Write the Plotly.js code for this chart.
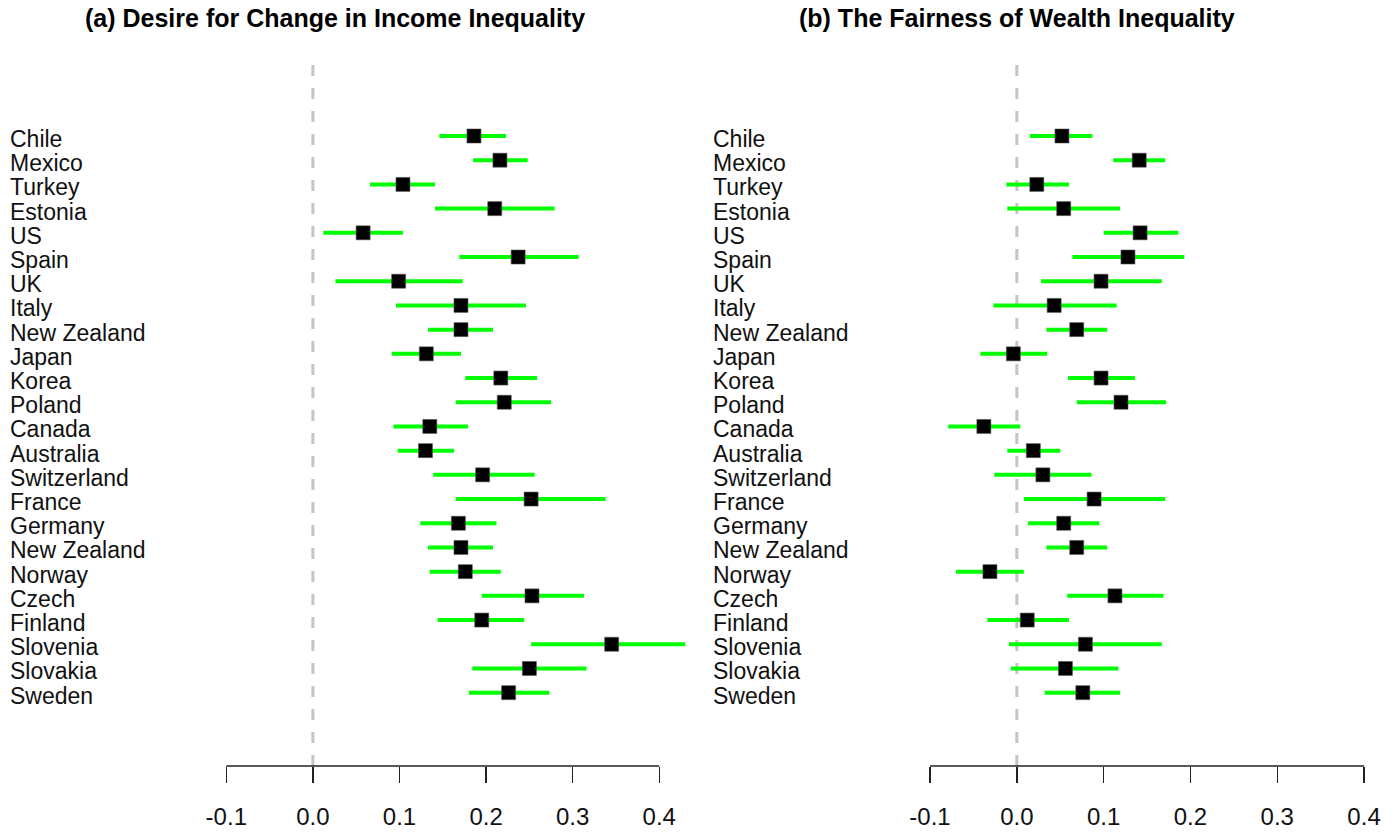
<!DOCTYPE html>
<html>
<head>
<meta charset="utf-8">
<script src="https://cdn.plot.ly/plotly-3.0.1.min.js"></script>
<style>html,body{margin:0;padding:0;background:#fff;}#chart{width:1396px;height:832px;}</style>
</head>
<body>
<div id="chart"></div>
<script>
// Countries, top to bottom
var countries = ["Chile","Mexico","Turkey","Estonia","US","Spain","UK","Italy","New Zealand","Japan","Korea","Poland","Canada","Australia","Switzerland","France","Germany","New Zealand","Norway","Czech","Finland","Slovenia","Slovakia","Sweden"];

// (a) Desire for Change in Income Inequality
var incomeEst = [0.186,0.216,0.104,0.210,0.058,0.237,0.099,0.171,0.171,0.131,0.217,0.221,0.135,0.130,0.196,0.252,0.168,0.171,0.176,0.253,0.195,0.345,0.250,0.226];
var incomeLo  = [0.146,0.185,0.066,0.141,0.012,0.169,0.026,0.096,0.133,0.091,0.176,0.165,0.093,0.098,0.139,0.165,0.124,0.133,0.135,0.195,0.144,0.252,0.184,0.180];
var incomeHi  = [0.223,0.248,0.141,0.279,0.104,0.307,0.173,0.246,0.208,0.171,0.259,0.275,0.179,0.163,0.256,0.338,0.212,0.208,0.217,0.313,0.244,0.430,0.316,0.273];

// (b) The Fairness of Wealth Inequality
var wealthEst = [0.052,0.141,0.023,0.054,0.142,0.128,0.097,0.043,0.069,-0.004,0.097,0.120,-0.038,0.019,0.030,0.089,0.054,0.069,-0.031,0.113,0.012,0.079,0.056,0.076];
var wealthLo  = [0.015,0.111,-0.012,-0.011,0.100,0.064,0.028,-0.027,0.034,-0.042,0.059,0.069,-0.079,-0.011,-0.026,0.008,0.013,0.034,-0.070,0.058,-0.034,-0.009,-0.007,0.032];
var wealthHi  = [0.087,0.171,0.060,0.119,0.186,0.193,0.167,0.115,0.104,0.035,0.136,0.172,0.004,0.050,0.086,0.171,0.095,0.104,0.008,0.169,0.060,0.167,0.117,0.119];

var tickVals = [-0.1,0,0.1,0.2,0.3,0.4];
var tickText = ["-0.1","0.0","0.1","0.2","0.3","0.4"];

var titles = ["(a) Desire for Change in Income Inequality","(b) The Fairness of Wealth Inequality"];

var rows = countries.map(function(_, i){ return i; });

function diff(a, b){ return a.map(function(v, i){ return Math.abs(v - b[i]); }); }

function trace(est, lo, hi, xa){
  return {
    type: "scatter", mode: "markers", x: est, y: rows, xaxis: xa, yaxis: "y",
    marker: {symbol: "square", size: 14, color: "#000000", line: {width: 0.6, color: "#555"}},
    error_x: {type: "data", symmetric: false, array: diff(hi, est), arrayminus: diff(est, lo),
              color: "#00ff00", thickness: 4, width: 0},
    hoverinfo: "x+y", showlegend: false
  };
}

var data = [trace(incomeEst, incomeLo, incomeHi, "x"), trace(wealthEst, wealthLo, wealthHi, "x2")];

var yBot = 1 - 766/832, yTop = 1 - 62/832;
var font = "Arial, 'Liberation Sans', sans-serif";

function xaxis(range, domain){
  return {
    domain: domain, range: range, anchor: "y",
    showgrid: false, zeroline: false, showline: false,
    tickmode: "array", tickvals: tickVals, ticktext: tickText,
    ticks: "outside", ticklen: 16, tickwidth: 1.5, tickcolor: "#222",
    ticklabelstandoff: 13,
    tickfont: {family: font, size: 24, color: "#111"}
  };
}

var annotations = [];
countries.forEach(function(c, i){
  annotations.push({text: c, xref: "paper", yref: "y", x: 8/1396, y: i, xanchor: "left", yanchor: "middle",
    yshift: -3, showarrow: false, font: {family: font, size: 23, color: "#111"}});
  annotations.push({text: c, xref: "paper", yref: "y", x: 711/1396, y: i, xanchor: "left", yanchor: "middle",
    yshift: -3, showarrow: false, font: {family: font, size: 23, color: "#111"}});
});
annotations.push({text: "<b>" + titles[0] + "</b>", xref: "paper", yref: "paper", x: 334.5/1396, y: 1 - 18/832,
  xanchor: "center", yanchor: "middle", showarrow: false, font: {family: font, size: 25, color: "#000"}});
annotations.push({text: "<b>" + titles[1] + "</b>", xref: "paper", yref: "paper", x: 1016.5/1396, y: 1 - 18/832,
  xanchor: "center", yanchor: "middle", showarrow: false, font: {family: font, size: 25, color: "#000"}});

var shapes = [];
["x","x2"].forEach(function(xr){
  shapes.push({type: "line", xref: xr, yref: "paper", x0: 0, x1: 0, y0: yBot, y1: yTop, layer: "below",
    line: {color: "#c4c4c4", width: 3, dash: "11px,12px"}});
  shapes.push({type: "line", xref: xr, yref: "paper", x0: tickVals[0], x1: tickVals[tickVals.length-1], y0: yBot, y1: yBot,
    line: {color: "#222", width: 1.5}});
});

var layout = {
  width: 1396, height: 832,
  margin: {l: 0, r: 0, t: 0, b: 0, pad: 0},
  paper_bgcolor: "#ffffff", plot_bgcolor: "#ffffff",
  xaxis: xaxis([-0.3613, 0.4447], [0, 0.5]),
  xaxis2: xaxis([-0.3673, 0.4368], [0.5, 1]),
  yaxis: {domain: [yBot, yTop], range: [26.03, -3.058], visible: false, showgrid: false, zeroline: false},
  annotations: annotations,
  shapes: shapes,
  font: {family: font}
};

Plotly.newPlot("chart", data, layout, {displayModeBar: false, staticPlot: true});
</script>
</body>
</html>
